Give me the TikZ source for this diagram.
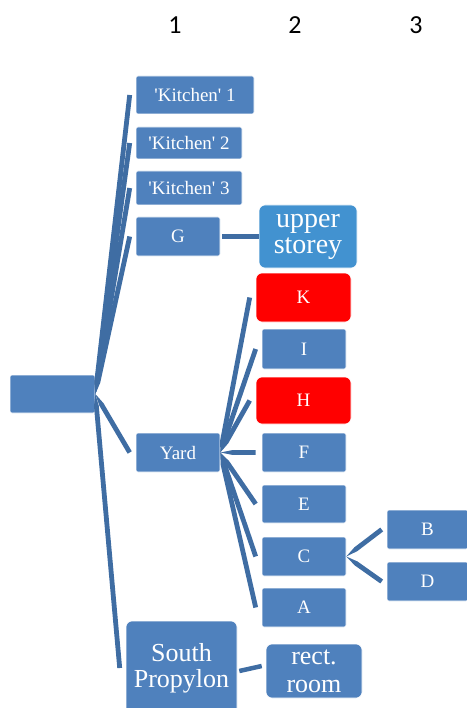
\documentclass[tikz,border=0pt]{standalone}
\usepackage{fontspec}
\setmainfont{Liberation Serif}
\newfontfamily\hdrfont{Carlito}
\usetikzlibrary{calc}
\definecolor{boxblue}{HTML}{4F81BD}
\definecolor{linkblue}{HTML}{3F6DA3}
\definecolor{storeyblue}{HTML}{4292D0}

% tapered connector: sharp at #1, full width from 12pt on to #2
\newcommand{\taperlink}[2]{%
  \path (#2) coordinate (tpB) ($(#1)!12pt!(tpB)$) coordinate (tpA);
  \fill[linkblue] (#1) -- ($(tpA)!2.4pt!90:(tpB)$) -- ($(tpB)!2.4pt!-90:(tpA)$)
    -- ($(tpB)!2.4pt!90:(tpA)$) -- ($(tpA)!2.4pt!-90:(tpB)$) -- cycle;}

\begin{document}
\begin{tikzpicture}[x=1pt,y=-1pt,
  room/.style={rectangle, rounded corners=2pt, fill=boxblue, draw=white, line width=0.6pt,
    text=white, inner sep=0pt, font=\fontsize{19}{19}\selectfont},
  hot/.style={room, fill=red, rounded corners=6pt},
  big/.style={room, rounded corners=6pt, align=center},
  link/.style={linkblue, line width=4.5pt},
  colnum/.style={font=\hdrfont\fontsize{26}{26}\selectfont}]
\useasboundingbox (0,0) rectangle (466,708);
% column numbers
\node[colnum] (c1) at (175,25) {1};
\node[colnum] (c2) at (295,25) {2};
\node[colnum] (c3) at (416,25) {3};
% level 0 and 1
\node[room, minimum width=85pt, minimum height=38pt] (root) at (52.5,394) {};
\node[room, minimum width=118pt, minimum height=38pt] (k1) at (195,95) {\textquotesingle Kitchen\textquotesingle{} 1};
\node[room, minimum width=106pt, minimum height=32pt] (k2) at (189,143) {\textquotesingle Kitchen\textquotesingle{} 2};
\node[room, minimum width=106pt, minimum height=34pt] (k3) at (189,188) {\textquotesingle Kitchen\textquotesingle{} 3};
\node[room, minimum width=84pt, minimum height=39pt] (g) at (178,236.5) {G};
\node[room, minimum width=84pt, minimum height=39pt] (yard) at (178,452.5) {Yard};
\node[big, minimum width=111pt, minimum height=94pt, font=\fontsize{26}{26}\selectfont] (south) at (181.5,668) {South\\Propylon};
% level 2
\node[big, fill=storeyblue, minimum width=98pt, minimum height=63pt, font=\fontsize{28}{26}\selectfont] (upper) at (308,236.5) {upper\\storey};
\node[hot, minimum width=95pt, minimum height=49pt] (rK) at (303.5,297.5) {K};
\node[room, minimum width=84pt, minimum height=40pt] (rI) at (304,349) {I};
\node[hot, minimum width=95pt, minimum height=47pt] (rH) at (303.5,400.5) {H};
\node[room, minimum width=84pt, minimum height=39pt] (rF) at (304,452.5) {F};
\node[room, minimum width=84pt, minimum height=38pt] (rE) at (304,504) {E};
\node[room, minimum width=84pt, minimum height=39pt] (rC) at (304,556.5) {C};
\node[room, minimum width=84pt, minimum height=39pt] (rA) at (304,607.5) {A};
\node[big, minimum width=96pt, minimum height=54pt, font=\fontsize{26}{28}\selectfont] (rect) at (314,671) {rect.\\room};
% level 3
\node[room, minimum width=81pt, minimum height=39pt] (rB) at (427.5,529.5) {B};
\node[room, minimum width=81pt, minimum height=39pt] (rD) at (427.5,581.5) {D};
% connectors
\foreach \kid in {k1,k2,k3,g,yard,south}
  \taperlink{root.east}{[xshift=-6pt]\kid.west};
\foreach \kid in {rK,rI,rH,rF,rE,rC,rA}
  \taperlink{yard.east}{[xshift=-6pt]\kid.west};
\foreach \kid in {rB,rD}
  \taperlink{rC.east}{[xshift=-5pt]\kid.west};
\draw[link] ([xshift=2pt]g.east) -- (upper.west);
\draw[link] ([xshift=2pt,yshift=-3pt]south.east) -- ([xshift=-4pt,yshift=5pt]rect.west);
\end{tikzpicture}
\end{document}
